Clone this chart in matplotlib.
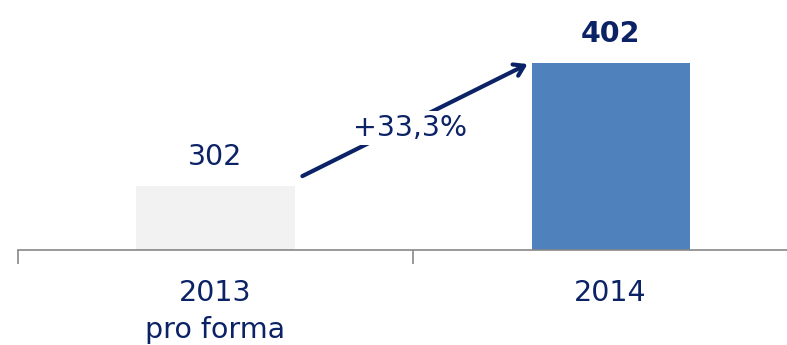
import matplotlib.pyplot as plt

categories = ["2013\npro forma", "2014"]
values = [302, 402]
bar_colors = ["#f2f2f2", "#4f81bd"]
growth_label = "+33,3%"

navy = "#0c2266"

fig = plt.figure(figsize=(7.87, 3.45), dpi=100)
# axes runs past the right edge, like the original slide
ax = fig.add_axes([18 / 787, 95 / 345, 790 / 787, 250 / 345])

x = range(len(categories))
ax.bar(x, values, width=0.4, color=bar_colors, zorder=2)
ax.set_xlim(-0.5, 1.5)
ax.set_ylim(250, 453)

for s in ["top", "right", "left"]:
    ax.spines[s].set_visible(False)
ax.spines["bottom"].set_color("#878787")
ax.spines["bottom"].set_linewidth(1.2)
ax.set_yticks([])

ax.set_xticks([-0.5, 0.5, 1.5])
ax.set_xticklabels([])
ax.set_xticks(list(x), minor=True)
ax.set_xticklabels(categories, minor=True, fontsize=20.5, color=navy,
                   linespacing=1.4)
ax.tick_params(axis="x", which="major", length=10, width=1.2,
               color="#878787", direction="out")
ax.tick_params(axis="x", which="minor", length=0, pad=21)

# value labels
ax.text(0, values[0] + 12, str(values[0]), ha="center", va="bottom",
        fontsize=20.5, color=navy)
ax.text(1, values[1] + 12, str(values[1]), ha="center", va="bottom",
        fontsize=20.5, color=navy, fontweight="bold")

# growth arrow
ax.annotate("", xy=(0.79, values[1] - 1), xytext=(0.22, values[0] + 8),
            arrowprops=dict(arrowstyle="->,head_length=0.7,head_width=0.45",
                            color=navy, lw=3, shrinkA=0, shrinkB=0))
ax.text(0.492, 349, growth_label, ha="center", va="center", fontsize=20.5,
        color=navy, bbox=dict(facecolor="white", edgecolor="none", pad=2))

fig.savefig("out.png", dpi=100)
